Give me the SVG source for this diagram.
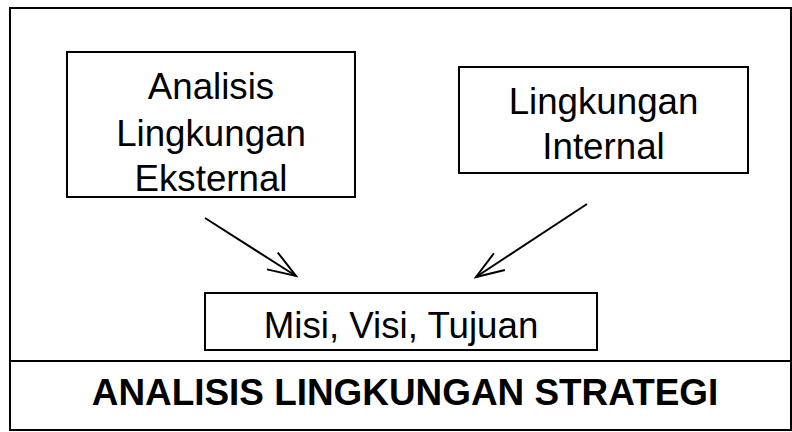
<svg xmlns="http://www.w3.org/2000/svg" width="792" height="432" viewBox="0 0 792 432">
  <style>
    .box { fill: #ffffff; stroke: #000000; stroke-width: 2; }
    .frame { fill: none; stroke: #000000; stroke-width: 2; }
    .lbl { font-family: "Liberation Sans", Arial, sans-serif; font-size: 36.7px; fill: #000000; text-anchor: middle; }
    .title { font-family: "Liberation Sans", Arial, sans-serif; font-size: 36.9px; font-weight: bold; fill: #000000; text-anchor: middle; }
    .conn { fill: none; stroke: #000000; stroke-width: 2; }
  </style>
  <defs>
    <marker id="openArrow" markerUnits="userSpaceOnUse" markerWidth="32" markerHeight="24" refX="28" refY="10" orient="auto" overflow="visible">
      <path d="M0,0 L28,10 L0,20" fill="none" stroke="#000000" stroke-width="2" stroke-linejoin="miter"/>
    </marker>
  </defs>
  <rect width="792" height="432" fill="#ffffff"/>
  <g id="frame">
    <rect class="frame" x="10" y="8" width="781" height="422"/>
    <line class="frame" x1="10" y1="361" x2="791" y2="361"/>
  </g>
  <g id="node-eksternal">
    <rect class="box" x="67" y="52" width="288" height="145"/>
    <text class="lbl" x="211" y="99.3">Analisis</text>
    <text class="lbl" x="211" y="145.5">Lingkungan</text>
    <text class="lbl" x="211" y="190.7">Eksternal</text>
  </g>
  <g id="node-internal">
    <rect class="box" x="459" y="67" width="289" height="106"/>
    <text class="lbl" x="603.5" y="114">Lingkungan</text>
    <text class="lbl" x="603.5" y="159.3">Internal</text>
  </g>
  <g id="node-misi">
    <rect class="box" x="205" y="293" width="392" height="57"/>
    <text class="lbl" x="401" y="338">Misi, Visi, Tujuan</text>
  </g>
  <g id="title">
    <text class="title" x="405" y="405">ANALISIS LINGKUNGAN STRATEGI</text>
  </g>
  <g id="connectors">
    <line class="conn" x1="205" y1="218" x2="296" y2="276" marker-end="url(#openArrow)"/>
    <line class="conn" x1="587" y1="204" x2="476" y2="277" marker-end="url(#openArrow)"/>
  </g>
</svg>
